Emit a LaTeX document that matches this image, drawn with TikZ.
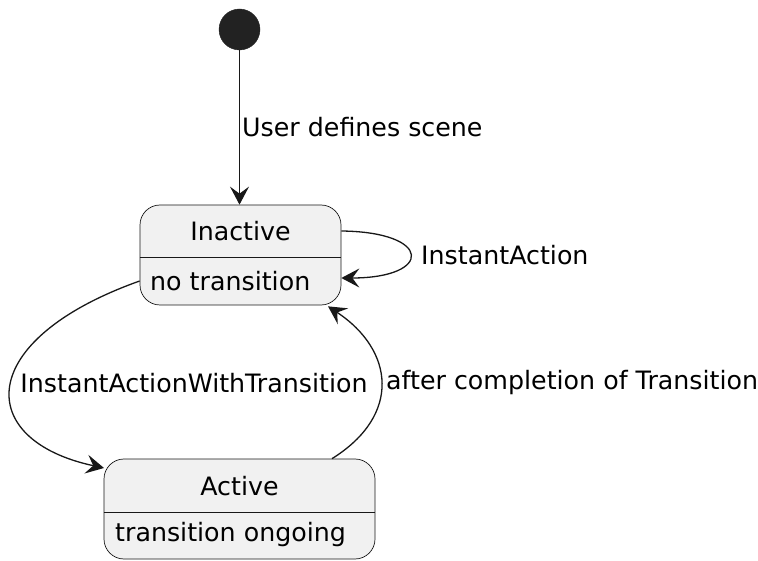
\documentclass[tikz,border=0pt]{standalone}
\usepackage{fontspec}
\setmainfont{DejaVu Sans}
\usetikzlibrary{arrows.meta,calc}
\definecolor{linec}{HTML}{181818}
\definecolor{boxfill}{HTML}{F1F1F1}
\definecolor{initc}{HTML}{222222}
\tikzset{
  statebox/.style={draw=linec, fill=boxfill, line width=0.7pt, rounded corners=20pt, inner sep=0pt},
  divider/.style={draw=linec, line width=0.7pt},
  txt/.style={inner sep=0pt, font=\fontsize{25.3}{30}\selectfont, text=black},
  conn/.style={draw=linec, line width=1.3pt, -{Stealth[length=18pt,width=19pt,inset=7pt]}},
}
\begin{document}
\begin{tikzpicture}[x=1pt,y=-1pt]
\useasboundingbox (0,0) rectangle (758,561);
% initial state
\node[circle, fill=initc, draw=initc, minimum size=41pt, inner sep=0pt] (init) at (239.5,29.5) {};
% Inactive
\node[statebox, minimum width=201pt, minimum height=100pt] (inact) at (240.5,255) {};
\draw[divider] ($(inact.west)+(0,2)$) -- ($(inact.east)+(0,2)$);
\node[txt] (inactname) at (240.5,231) {Inactive};
\node[txt, anchor=west] (inactdesc) at (150,281) {no transition};
% Active
\node[statebox, minimum width=271pt, minimum height=100pt] (act) at (239.5,509) {};
\draw[divider] ($(act.west)+(0,3)$) -- ($(act.east)+(0,3)$);
\node[txt] (actname) at (239.5,486) {Active};
\node[txt, anchor=west] (actdesc) at (115,535) {transition ongoing};
% transitions
\draw[conn] (init) -- (inact.north -| init);
\node[txt, anchor=west] (l1) at (242,127) {User defines scene};
\draw[conn] ($(inact.east)+(0,-24)$) .. controls (433,232) and (433,278) .. ($(inact.east)+(0,23)$);
\node[txt, anchor=west] (l2) at (421,255) {InstantAction};
\draw[conn] ($(inact.west)+(0,26)$) .. controls (-26,340) and (-26,440) .. (104,468);
\node[txt] (l3) at (194,383) {InstantActionWithTransition};
\draw[conn] ($(act.north)+(92.5,0)$) .. controls (402,415) and (394,350) .. ($(inact.south)+(87.5,1)$);
\node[txt, anchor=west] (l4) at (386,383) {after completion of Transition};
\end{tikzpicture}
\end{document}
